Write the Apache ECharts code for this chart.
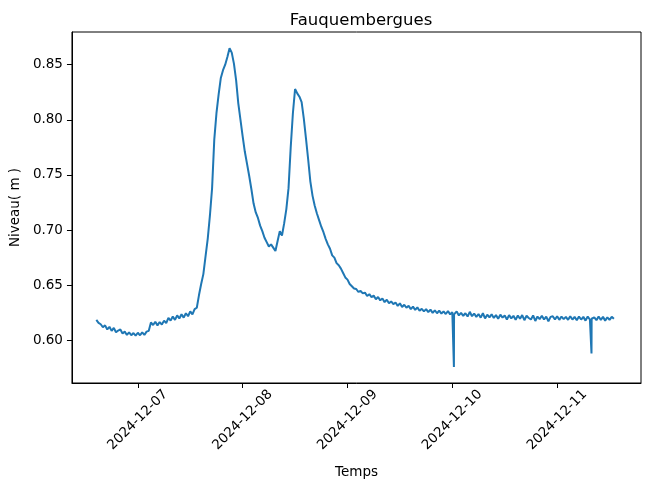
<!DOCTYPE html>
<html>
<head>
<meta charset="utf-8">
<script src="https://cdn.jsdelivr.net/npm/echarts@6/dist/echarts.min.js"></script>
<style>
html,body{margin:0;padding:0;background:#fff;}
#chart{width:649px;height:489px;}
</style>
</head>
<body>
<div id="chart"></div>
<script>
// ---- data ----
const titleText = 'Fauquembergues';
const xName = 'Temps';
const yName = 'Niveau( m )';
const startTime = '2024-12-06T14:30:00';
const stepMinutes = 30;
const xTickLabels = ['2024-12-07', '2024-12-08', '2024-12-09', '2024-12-10', '2024-12-11'];
const yTickValues = [0.60, 0.65, 0.70, 0.75, 0.80, 0.85];
// regular 30-minute readings
const levels = [
  0.6185, 0.6158, 0.6145, 0.6118, 0.6135, 0.6098, 0.6122, 0.6085, 0.6112, 0.6072,
  0.6088, 0.6098, 0.6062, 0.6078, 0.6048, 0.6072, 0.6045, 0.6065, 0.6042, 0.6068,
  0.6045, 0.6072, 0.6048, 0.6078, 0.6085, 0.6162, 0.6138, 0.6168, 0.6135, 0.6165,
  0.6142, 0.6178, 0.6155, 0.6202, 0.6178, 0.6215, 0.6185, 0.6225, 0.6198, 0.6235,
  0.6205, 0.6245, 0.6218, 0.6262, 0.6235, 0.6282, 0.6295, 0.641, 0.651, 0.660,
  0.676, 0.692, 0.713, 0.738, 0.782, 0.806, 0.823, 0.838, 0.845, 0.850,
  0.857, 0.865, 0.861, 0.851, 0.836, 0.815, 0.800, 0.785, 0.771, 0.760,
  0.749, 0.737, 0.724, 0.716, 0.711, 0.704, 0.699, 0.693, 0.689, 0.685,
  0.687, 0.684, 0.681, 0.690, 0.699, 0.695, 0.706, 0.719, 0.738, 0.775,
  0.806, 0.828, 0.824, 0.821, 0.816, 0.801, 0.783, 0.764, 0.744, 0.731,
  0.722, 0.715, 0.709, 0.703, 0.698, 0.692, 0.687, 0.683, 0.677, 0.675,
  0.670, 0.668, 0.665, 0.661, 0.657, 0.655, 0.651, 0.649, 0.647, 0.6465,
  0.6438, 0.6448, 0.6425, 0.6432, 0.6402, 0.6418, 0.6392, 0.6405, 0.6372, 0.6392,
  0.6362, 0.6378, 0.6345, 0.6368, 0.6335, 0.6352, 0.6328, 0.6342, 0.6312, 0.6335,
  0.6302, 0.6322, 0.6295, 0.6312, 0.6282, 0.6305, 0.6275, 0.6298, 0.6268, 0.6285,
  0.6262, 0.6282, 0.6255, 0.6278, 0.6248, 0.6272, 0.6245, 0.6268, 0.6242, 0.6262,
  0.6238, 0.6265, 0.6235, 0.6255, 0.6232, 0.6262, 0.6225, 0.6248, 0.6222, 0.6245,
  0.6215, 0.6258, 0.6218, 0.6242, 0.6212, 0.6238, 0.6205, 0.6245, 0.6198, 0.6232,
  0.6208, 0.6235, 0.6202, 0.6228, 0.6195, 0.6232, 0.6205, 0.6225, 0.6188, 0.6228,
  0.6198, 0.6222, 0.6185, 0.6225, 0.6195, 0.6228, 0.6182, 0.6222, 0.6202, 0.6188,
  0.6225, 0.6175, 0.6215, 0.6192, 0.6222, 0.6188, 0.6215, 0.6172, 0.6212, 0.6218,
  0.6188, 0.6218, 0.6185, 0.6215, 0.6192, 0.6212, 0.6185, 0.6218, 0.6188, 0.6212,
  0.6182, 0.6215, 0.6188, 0.6212, 0.6178, 0.6215, 0.6188, 0.6205, 0.6208, 0.6182,
  0.6215, 0.6185, 0.6212, 0.6178, 0.6208, 0.6185, 0.6212, 0.6195
];
// short drop-outs (extra readings)
const spikeTimes = [
  '2024-12-10T00:20:00', '2024-12-10T00:22:00', '2024-12-10T00:24:00',
  '2024-12-11T07:50:00', '2024-12-11T07:52:00', '2024-12-11T07:54:00'
];
const spikeValues = [0.6238, 0.5757, 0.6235, 0.6198, 0.588, 0.6195];
const xMinTime = '2024-12-06T08:55:00';
const xMaxTime = '2024-12-11T19:12:00';
const yMin = 0.5612;
const yMax = 0.8797;

// ---- build ----
const t0 = new Date(startTime).getTime();
const stepMs = stepMinutes * 60 * 1000;
const seriesData = levels.map((v, i) => [t0 + i * stepMs, v])
  .concat(spikeTimes.map((s, i) => [new Date(s).getTime(), spikeValues[i]]))
  .sort((a, b) => a[0] - b[0]);
const xTickValues = xTickLabels.map(s => new Date(s + 'T00:00:00').getTime());

const FONT = 'DejaVu Sans';
const chart = echarts.init(document.getElementById('chart'), null, {renderer: 'canvas'});
chart.setOption({
  animation: false,
  backgroundColor: '#ffffff',
  title: {
    text: titleText,
    left: 356,
    top: 7,
    textAlign: 'center',
    textStyle: {fontFamily: FONT, fontSize: 16.5, fontWeight: 'normal', color: '#000'}
  },
  grid: {
    left: 70, top: 32, width: 571, height: 351,
    show: true, borderColor: '#000', borderWidth: 1, backgroundColor: 'transparent'
  },
  xAxis: {
    type: 'value',
    min: new Date(xMinTime).getTime(),
    max: new Date(xMaxTime).getTime(),
    name: xName,
    nameLocation: 'middle',
    nameGap: 82,
    nameTextStyle: {fontFamily: FONT, fontSize: 13.5, color: '#000'},
    axisLine: {show: true, lineStyle: {color: '#000', width: 1}},
    axisTick: {show: true, length: 5, lineStyle: {color: '#000'}, customValues: xTickValues},
    axisLabel: {
      customValues: xTickValues,
      rotate: 45,
      align: 'center',
      verticalAlign: 'middle',
      margin: 37,
      fontFamily: FONT, fontSize: 13.5, color: '#000',
      formatter: function (v) {
        const i = xTickValues.indexOf(v);
        return i >= 0 ? xTickLabels[i] : '';
      }
    },
    splitLine: {show: false}
  },
  yAxis: {
    type: 'value',
    min: yMin,
    max: yMax,
    name: yName,
    nameLocation: 'middle',
    nameGap: 47,
    nameRotate: 90,
    nameTextStyle: {fontFamily: FONT, fontSize: 13.5, color: '#000'},
    axisLine: {show: true, lineStyle: {color: '#000', width: 1}},
    axisTick: {show: true, length: 5, lineStyle: {color: '#000'}, customValues: yTickValues},
    axisLabel: {
      customValues: yTickValues,
      margin: 9,
      fontFamily: FONT, fontSize: 13.5, color: '#000',
      formatter: v => v.toFixed(2)
    },
    splitLine: {show: false}
  },
  series: [{
    type: 'line',
    data: seriesData,
    showSymbol: false,
    symbol: 'none',
    lineStyle: {color: '#1f77b4', width: 2},
    itemStyle: {color: '#1f77b4'}
  }]
});
</script>
</body>
</html>
